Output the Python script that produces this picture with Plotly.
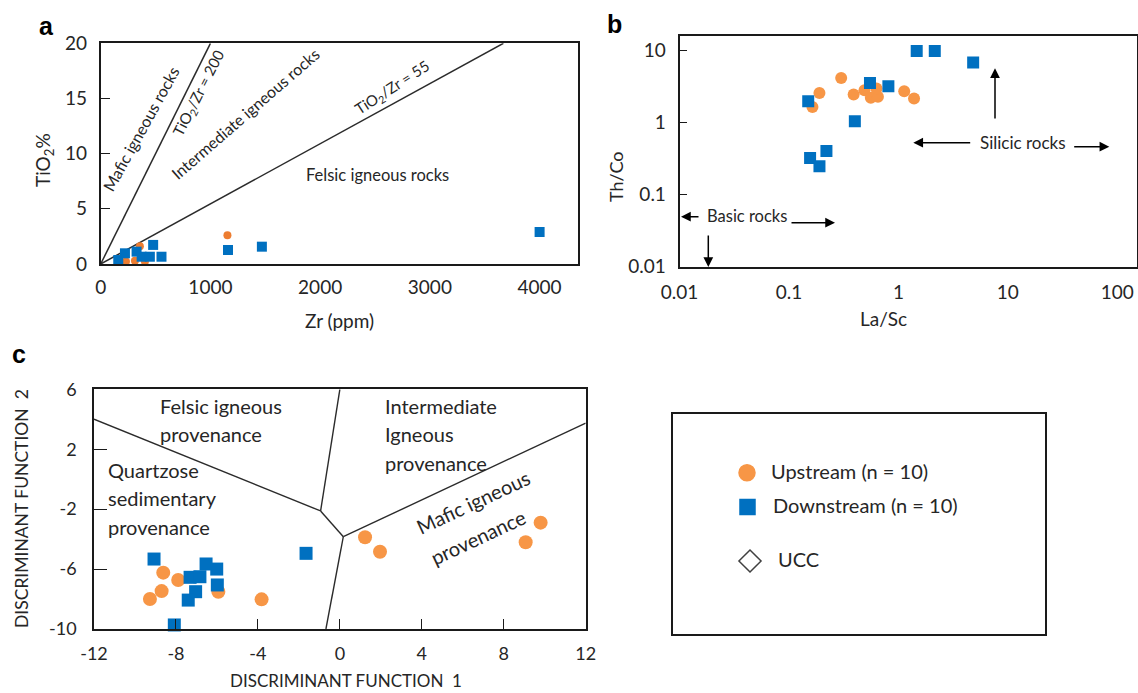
import plotly.graph_objects as go

W, H = 1138, 693

# ---- Panel a: TiO2 (%) vs Zr (ppm) ----
A_UP_ZR = [1155, 357, 230, 312, 403, 327, 448, 373, 221, 554]
A_UP_TIO2 = [2.6, 1.6, 0.22, 0.3, 0.22, 1.1, 0.7, 0.7, 0.95, 0.65]
A_DOWN_ZR = [160, 221, 327, 373, 478, 448, 554, 1160, 1469, 4000]
A_DOWN_TIO2 = [0.36, 0.97, 1.12, 0.66, 1.73, 0.66, 0.66, 1.27, 1.57, 2.9]
# TiO2/Zr boundary lines (Zr, TiO2 endpoints)
A_LINE200_ZR = [0, 1000]
A_LINE200_TIO2 = [0, 20]
A_LINE55_ZR = [0, 3670]
A_LINE55_TIO2 = [0, 20]
A_XTICKS = [0, 1000, 2000, 3000, 4000]
A_YTICKS = [0, 5, 10, 15, 20]

# ---- Panel b: Th/Co vs La/Sc ----
B_UP_LASC = [0.164, 0.19, 0.30, 0.39, 0.49, 0.56, 0.65, 0.63, 1.13, 1.39]
B_UP_THCO = [1.63, 2.55, 4.12, 2.43, 2.78, 2.18, 2.25, 2.94, 2.69, 2.13]
B_DOWN_LASC = [0.150, 0.55, 0.81, 0.40, 0.156, 0.22, 0.19, 1.47, 2.15, 4.82]
B_DOWN_THCO = [1.96, 3.5, 3.16, 1.03, 0.32, 0.40, 0.245, 9.7, 9.7, 6.75]
B_XTICKS = [0.01, 0.1, 1, 10, 100]
B_XTICKTEXT = ["0.01", "0.1", "1", "10", "100"]
B_YTICKS = [0.01, 0.1, 1, 10]
B_YTICKTEXT = ["0.01", "0.1", "1", "10"]

# ---- Panel c: discriminant functions ----
C_UP_DF1 = [-8.62, -7.89, -8.70, -9.27, -5.93, -3.82, 1.23, 1.96, 9.07, 9.80]
C_UP_DF2 = [-6.24, -6.73, -7.47, -8.0, -7.51, -8.02, -3.88, -4.84, -4.21, -2.9]
C_DOWN_DF1 = [-9.07, -6.53, -6.01, -7.31, -6.83, -5.98, -7.04, -7.40, -8.08, -1.65]
C_DOWN_DF2 = [-5.33, -5.66, -6.0, -6.55, -6.51, -7.06, -7.51, -8.07, -9.73, -4.95]
# provenance field boundaries (DF1, DF2 endpoints per segment)
C_BOUNDS = [
    ([-12, -0.94], [4.0, -2.12]),
    ([0.0, -0.94], [6.0, -2.12]),
    ([-0.94, 0.17], [-2.12, -3.84]),
    ([0.17, -0.68], [-3.84, -10.0]),
    ([0.17, 12.0], [-3.84, 3.75]),
]
C_XTICKS = [-12, -8, -4, 0, 4, 8, 12]
C_XTICKTEXT = ["-12", "-8", "-4", "0", "4", "8", "12"]
C_YTICKS = [6, 2, -2, -6, -10]
C_YTICKTEXT = ["6", "2", "-2", "-6", "-10"]

ORANGE = "#F79646"
BLUE = "#0070C0"
LINE = "#2b2b2b"
FONT = "Lato"
TXT = "#262626"


def px(x):
    return x / W


def py(y):
    return 1 - y / H


fig = go.Figure()

# panel a
for xs, ys in [(A_LINE200_ZR, A_LINE200_TIO2), (A_LINE55_ZR, A_LINE55_TIO2)]:
    fig.add_trace(go.Scatter(x=xs, y=ys, mode="lines", line=dict(color=LINE, width=1.5),
                             xaxis="x", yaxis="y", showlegend=False, hoverinfo="skip"))
fig.add_trace(go.Scatter(x=A_UP_ZR, y=A_UP_TIO2, mode="markers", name="Upstream (n = 10)",
                         marker=dict(symbol="circle", size=8, color="#ED7D31"),
                         xaxis="x", yaxis="y", showlegend=False, cliponaxis=False))
fig.add_trace(go.Scatter(x=A_DOWN_ZR, y=A_DOWN_TIO2, mode="markers", name="Downstream (n = 10)",
                         marker=dict(symbol="square", size=10, color=BLUE),
                         xaxis="x", yaxis="y", showlegend=False, cliponaxis=False))

# panel b
fig.add_trace(go.Scatter(x=B_UP_LASC, y=B_UP_THCO, mode="markers", name="Upstream (n = 10)",
                         marker=dict(symbol="circle", size=12, color=ORANGE),
                         xaxis="x2", yaxis="y2", showlegend=False))
fig.add_trace(go.Scatter(x=B_DOWN_LASC, y=B_DOWN_THCO, mode="markers", name="Downstream (n = 10)",
                         marker=dict(symbol="square", size=12, color=BLUE),
                         xaxis="x2", yaxis="y2", showlegend=False))

# panel c
for xs, ys in C_BOUNDS:
    fig.add_trace(go.Scatter(x=xs, y=ys, mode="lines", line=dict(color=LINE, width=1.4),
                             xaxis="x3", yaxis="y3", showlegend=False, hoverinfo="skip"))
fig.add_trace(go.Scatter(x=C_UP_DF1, y=C_UP_DF2, mode="markers", name="Upstream (n = 10)",
                         marker=dict(symbol="circle", size=14, color=ORANGE),
                         xaxis="x3", yaxis="y3", showlegend=False, cliponaxis=False))
fig.add_trace(go.Scatter(x=C_DOWN_DF1, y=C_DOWN_DF2, mode="markers", name="Downstream (n = 10)",
                         marker=dict(symbol="square", size=13, color=BLUE),
                         xaxis="x3", yaxis="y3", showlegend=False, cliponaxis=False))

# legend swatches on a pixel-space overlay
LEG_X = [747, 747.5, 750]
LEG_Y = [472.7, 507, 561]
LEG_SYMBOLS = ["circle", "square", "diamond-open"]
LEG_SIZES = [16, 15, 17]
LEG_COLORS = [ORANGE, BLUE, "#404040"]
LEG_LABELS = ["Upstream (n = 10)", "Downstream (n = 10)", "UCC"]
LEG_TEXT_X = [769, 770.5, 775.6]
for i in range(3):
    fig.add_trace(go.Scatter(x=[LEG_X[i]], y=[LEG_Y[i]], mode="markers",
                             marker=dict(symbol=LEG_SYMBOLS[i], size=LEG_SIZES[i], color=LEG_COLORS[i],
                                         line=dict(width=1.5, color=LEG_COLORS[i])),
                             xaxis="x4", yaxis="y4", showlegend=False, hoverinfo="skip"))

frame = dict(showline=True, linecolor="#1a1a1a", linewidth=1.6, mirror=True, automargin=False,
             showgrid=False, zeroline=False)
f19 = dict(family=FONT, size=19, color=TXT)
f18 = dict(family=FONT, size=18, color=TXT)

layout = dict(
    width=W, height=H, margin=dict(l=0, r=0, t=0, b=0, autoexpand=False),
    paper_bgcolor="white", plot_bgcolor="rgba(0,0,0,0)",
    font=dict(family=FONT, color=TXT),
    xaxis=dict(domain=[px(100.7), px(578)], range=[0, 4350], tickvals=A_XTICKS,
               ticks="", ticklabelstandoff=5, tickfont=f19, anchor="y", **frame),
    yaxis=dict(domain=[py(264), py(43.3)], range=[0, 20], tickvals=A_YTICKS,
               ticks="inside", ticklen=9, tickcolor="#1a1a1a", ticklabelstandoff=8,
               tickfont=f19, anchor="x", **frame),
    xaxis2=dict(domain=[px(679.5), px(1137)], type="log", range=[-2, 2.18],
                tickvals=B_XTICKS, ticktext=B_XTICKTEXT, ticks="", ticklabelstandoff=8,
                tickfont=f19, anchor="y2", **frame),
    yaxis2=dict(domain=[py(266.5), py(35.7)], type="log", range=[-2, 1.2],
                tickvals=B_YTICKS, ticktext=B_YTICKTEXT, ticks="inside", ticklen=8,
                tickcolor="#1a1a1a", ticklabelstandoff=8, tickfont=f19, anchor="x2", **frame),
    xaxis3=dict(domain=[px(94), px(585.7)], range=[-12, 12], tickvals=C_XTICKS,
                ticktext=C_XTICKTEXT, ticks="inside", ticklen=10, tickcolor="#1a1a1a",
                ticklabelstandoff=8, tickfont=f18, anchor="y3", **frame),
    yaxis3=dict(domain=[py(629), py(389.3)], range=[-10, 6], tickvals=C_YTICKS,
                ticktext=C_YTICKTEXT, ticks="inside", ticklen=13, tickcolor="#1a1a1a",
                ticklabelstandoff=12, tickfont=f18, anchor="x3", **frame),
    xaxis4=dict(domain=[0, 1], range=[0, W], visible=False, anchor="y4", fixedrange=True,
                automargin=False),
    yaxis4=dict(domain=[0, 1], range=[H, 0], visible=False, anchor="x4", fixedrange=True,
                automargin=False),
)
fig.update_layout(**layout)

ann = []


def note(text, x, y, size=14, angle=0, xanchor="center", color=TXT, bold=False, family=FONT):
    ann.append(dict(text=("<b>%s</b>" % text) if bold else text, x=px(x), y=py(y),
                    xref="paper", yref="paper", showarrow=False, textangle=angle,
                    xanchor=xanchor, yanchor="middle",
                    font=dict(family=family, size=size, color=color)))


# panel letters
note("a", 46, 26, size=25, bold=True, color="black", family="Liberation Sans")
note("b", 614, 24, size=25, bold=True, color="black", family="Liberation Sans")
note("c", 19, 354, size=25, bold=True, color="black", family="Liberation Sans")

# panel a texts
note("Mafic igneous rocks", 140, 129, size=16, angle=-61)
note("TiO<sub>2</sub>/Zr = 200", 199, 93, size=15, angle=-63)
note("Intermediate igneous rocks", 245, 113, size=16, angle=-41)
note("TiO<sub>2</sub>/Zr = 55", 392, 88, size=15, angle=-33)
note("Felsic igneous rocks", 377, 175, size=16.5)
note("TiO<sub>2</sub>%", 44, 160, size=19, angle=-90)
note("Zr (ppm)", 339, 320, size=19)

# panel b texts
note("Th/Co", 616, 177, size=18, angle=-90)
note("La/Sc", 883, 318, size=19)
note("Basic rocks", 746.5, 216, size=16.5)
note("Silicic rocks", 1022.5, 142, size=17)

# panel c texts
note("Felsic igneous", 157.7, 406, size=20, xanchor="left")
note("provenance", 157.7, 434, size=20, xanchor="left")
note("Quartzose", 106, 470, size=20, xanchor="left")
note("sedimentary", 106, 498.3, size=20, xanchor="left")
note("provenance", 106, 526.7, size=20, xanchor="left")
note("Intermediate", 382.7, 406, size=20, xanchor="left")
note("Igneous", 382.7, 434, size=20, xanchor="left")
note("provenance", 382.7, 462.7, size=20, xanchor="left")
note("Mafic igneous", 473, 502, size=20, angle=-25)
note("provenance", 478, 537, size=20, angle=-25)
note("DISCRIMINANT FUNCTION&nbsp;&nbsp;1", 346, 680, size=17)
note("DISCRIMINANT FUNCTION&nbsp;&nbsp;2", 21, 509, size=17.5, angle=-90)

# legend labels
for i in range(3):
    note(LEG_LABELS[i], LEG_TEXT_X[i], LEG_Y[i] - 2, size=20, xanchor="left")

# arrows in panel b: (tail x, tail y, head x, head y)
ARROWS = [
    (700, 216.7, 681, 216.7),
    (790, 222.7, 835, 222.7),
    (708.3, 234, 708.3, 267),
    (971.7, 142.7, 913.3, 142.7),
    (1072.7, 146.7, 1109.3, 146.7),
    (995, 120, 995, 68.3),
]
for tx, ty, hx, hy in ARROWS:
    ann.append(dict(x=px(hx), y=py(hy), xref="paper", yref="paper", text="",
                    showarrow=True, ax=tx - hx, ay=ty - hy, axref="pixel", ayref="pixel",
                    arrowhead=2, arrowsize=1.3, arrowwidth=1.5, arrowcolor="black"))

fig.update_layout(annotations=ann)

# legend frame
fig.add_shape(type="rect", xref="paper", yref="paper",
              x0=px(672), x1=px(1046), y0=py(635), y1=py(413),
              line=dict(color="#1a1a1a", width=2))

fig.write_html("out.html")
